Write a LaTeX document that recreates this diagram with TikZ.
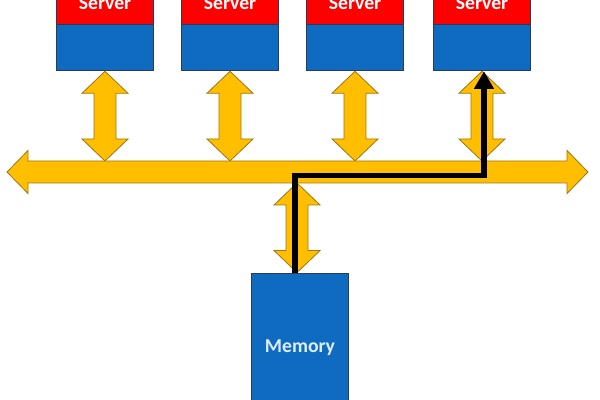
\documentclass[tikz,border=0pt]{standalone}
\usepackage{fontspec}
\setmainfont{Carlito}
\usetikzlibrary{positioning,calc,arrows.meta}
\definecolor{SrvRed}{rgb}{1.0,0.0,0.0}
\definecolor{SrvBlue}{rgb}{0.06,0.42,0.75}
\definecolor{BoxEdge}{rgb}{0.17,0.23,0.33}
\definecolor{BusGold}{rgb}{1.0,0.75,0.0}
\definecolor{BusEdge}{rgb}{0.62,0.47,0.08}
\definecolor{MemText}{rgb}{0.87,0.93,0.98}

\newcommand{\busarrow}[2]{%
\draw[bus] (#1) -- ++(23,22) -- ++(-12,0) -- ($(#2)+(11,-22)$) -- ++(12,0) -- (#2)
  -- ++(-23,-22) -- ++(12,0) -- ($(#1)+(-11,22)$) -- ++(-12,0) -- cycle;}

\begin{document}
\begin{tikzpicture}[x=0.025cm,y=-0.025cm,
  srvtop/.style={draw=BoxEdge,line width=.6pt,fill=SrvRed,minimum width=2.425cm,minimum height=1.05cm,inner sep=0pt,
    text=white,font=\fontsize{14}{14}\selectfont\bfseries},
  srvbase/.style={draw=BoxEdge,line width=.6pt,fill=SrvBlue,minimum width=2.425cm,minimum height=1.15cm,inner sep=0pt},
  memory/.style={draw=BoxEdge,line width=.6pt,fill=SrvBlue,minimum width=2.425cm,minimum height=3.75cm,inner sep=0pt,
    text=MemText,font=\fontsize{14}{14}\selectfont\bfseries},
  bus/.style={draw=BusEdge,line width=.6pt,fill=BusGold,line join=miter},
  route/.style={line width=3.6pt,line join=miter,-{Triangle[width=13.5pt,length=12.5pt]}}]
\clip (0,0) rectangle (600,400);

\foreach \x/\n in {105/1,230/2,355/3,482/4}{
  \node[srvtop] (top\n) at (\x,3) {Server};
  \node[srvbase,below=0pt of top\n] (srv\n) {};
}

\coordinate (bustop) at (0,161);
\coordinate (busbot) at (0,183);
\foreach \n in {1,...,4}{
  \coordinate (tap\n) at (srv\n.south |- bustop);
  \busarrow{srv\n.south}{tap\n}
}

\coordinate (busL) at (7,172);
\coordinate (busR) at (588,172);
\draw[bus] (busL) -- ++(21,-21.5) -- ++(0,10.5) -- ($(busR)+(-21,-11)$) -- ++(0,-10.5) -- (busR)
  -- ++(-21,21.5) -- ++(0,-10.5) -- ($(busL)+(21,11)$) -- ++(0,10.5) -- cycle;

\node[memory] (mem) at (300,348) {Memory};
\coordinate (memtap) at ($(mem.north)+(-3,0)$);
\coordinate (memport) at (memtap |- busbot);
\busarrow{memport}{memtap}

\coordinate (rt0) at ($(mem.north)+(-5,0)$);
\coordinate (bend) at ($(srv4.south)+(2,104)$);
\draw[route] (rt0) |- (bend) -- ($(srv4.south)+(2,0)$);

\end{tikzpicture}
\end{document}
